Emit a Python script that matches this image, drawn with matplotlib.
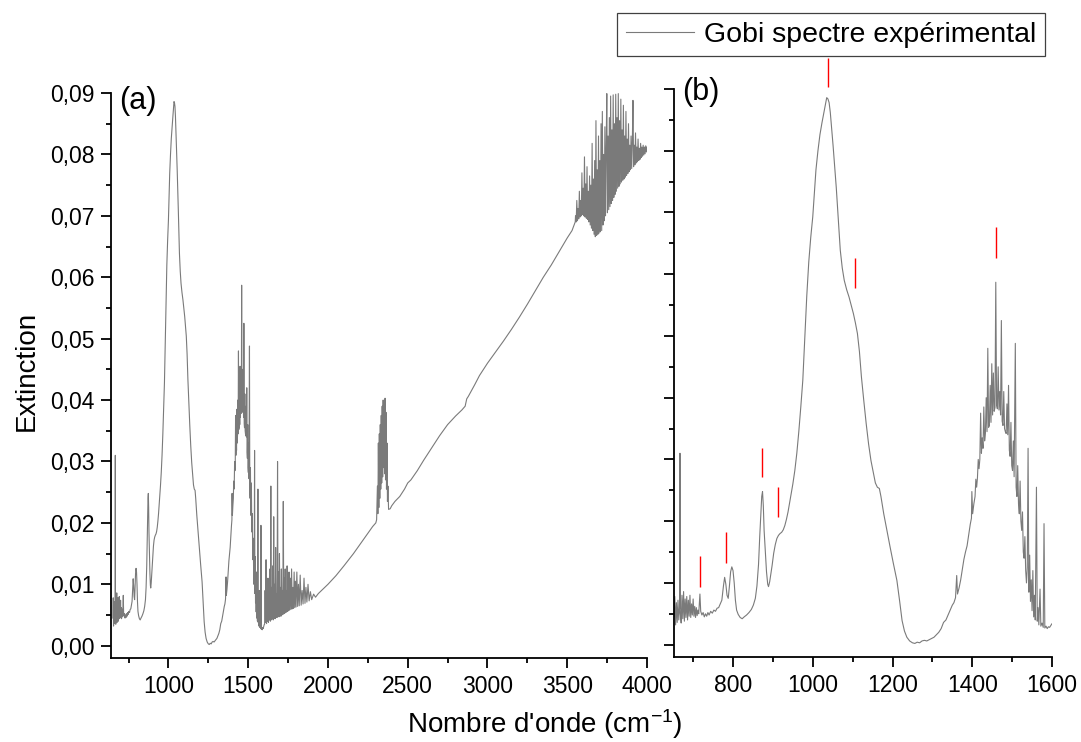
import numpy as np
import matplotlib
matplotlib.use("Agg")
import matplotlib.pyplot as plt
from matplotlib.ticker import MultipleLocator, FuncFormatter

plt.rcParams['font.family'] = ['Liberation Sans', 'DejaVu Sans']
plt.rcParams['mathtext.fontset'] = 'custom'
plt.rcParams['mathtext.rm'] = 'Liberation Sans'
plt.rcParams['mathtext.it'] = 'Liberation Sans:italic'

# spectrum, (wavenumber cm-1, extinction)
band_700 = [
    (652, 0.0045), (654, 0.0078), (656, 0.0032), (658, 0.0068), (660, 0.0036),
    (662, 0.0072), (664, 0.0040), (666, 0.0060), (667, 0.0310), (668, 0.0050),
    (670, 0.0035), (672, 0.0080), (674, 0.0042), (676, 0.0086), (678, 0.0038),
    (680, 0.0074), (682, 0.0044), (684, 0.0078), (686, 0.0040), (688, 0.0072),
    (690, 0.0046), (692, 0.0080), (694, 0.0044), (696, 0.0066), (698, 0.0048),
    (700, 0.0074), (702, 0.0046), (704, 0.0062), (706, 0.0044), (708, 0.0060),
    (710, 0.0047), (712, 0.0056), (714, 0.0050), (716, 0.0070), (717, 0.0082),
    (719, 0.0054), (722, 0.0048), (725, 0.0052), (728, 0.0045), (731, 0.0050),
    (734, 0.0046), (737, 0.0052), (740, 0.0048), (744, 0.0054), (748, 0.0051),
    (752, 0.0056), (756, 0.0054), (760, 0.0059), (764, 0.0060), (768, 0.0066),
    (772, 0.0072), (776, 0.0095), (779, 0.0109), (782, 0.0098), (785, 0.0080),
    (788, 0.0075), (791, 0.0095), (794, 0.0118), (797, 0.0126), (800, 0.0120),
    (803, 0.0100), (806, 0.0072), (809, 0.0056), (813, 0.0049), (818, 0.0044),
    (823, 0.0042), (828, 0.0045), (834, 0.0048), (840, 0.0052), (846, 0.0057),
    (851, 0.0064), (856, 0.0075), (860, 0.0095), (864, 0.0130), (867, 0.0175),
    (870, 0.0215), (872, 0.0240), (874, 0.0248), (876, 0.0225), (878, 0.0185),
    (881, 0.0150), (884, 0.0118), (887, 0.0098), (889, 0.0094), (892, 0.0102),
    (895, 0.0115), (898, 0.0128), (902, 0.0148), (906, 0.0162), (910, 0.0172),
    (914, 0.0177), (918, 0.0180), (922, 0.0182), (926, 0.0186), (930, 0.0193),
    (934, 0.0203), (938, 0.0215), (942, 0.0230), (946, 0.0245), (950, 0.0260),
    (955, 0.0282),
]

band_1000 = [
    (960, 0.0310), (965, 0.0345), (970, 0.0385), (975, 0.0428), (980, 0.0495),
    (985, 0.0565), (990, 0.0620), (995, 0.0660), (1000, 0.0693), (1004, 0.0730),
    (1008, 0.0769), (1013, 0.0800), (1018, 0.0826), (1023, 0.0845), (1028, 0.0862),
    (1032, 0.0876), (1035, 0.0886), (1038, 0.0884), (1041, 0.0878), (1044, 0.0862),
    (1047, 0.0839), (1051, 0.0808), (1055, 0.0774), (1059, 0.0740), (1062, 0.0709),
    (1066, 0.0670), (1069, 0.0639), (1074, 0.0610), (1079, 0.0590), (1085, 0.0575),
    (1091, 0.0563), (1097, 0.0548), (1102, 0.0536), (1107, 0.0521), (1112, 0.0504),
    (1117, 0.0475), (1122, 0.0434), (1128, 0.0395), (1134, 0.0358), (1140, 0.0325),
    (1146, 0.0298), (1152, 0.0278), (1157, 0.0262), (1162, 0.0255), (1167, 0.0253),
    (1171, 0.0240), (1178, 0.0212), (1186, 0.0185), (1194, 0.0158), (1202, 0.0132),
    (1211, 0.0104), (1218, 0.0070), (1224, 0.0039), (1230, 0.0022), (1236, 0.0012),
    (1243, 0.0006), (1250, 0.0003),
]

band_1450 = [
    (1256, 0.0002), (1262, 0.0004), (1268, 0.0003), (1274, 0.0006), (1280, 0.0007),
    (1286, 0.0006), (1292, 0.0008), (1298, 0.0010), (1304, 0.0012), (1310, 0.0016),
    (1316, 0.0020), (1322, 0.0026), (1328, 0.0036), (1334, 0.0040), (1338, 0.0046),
    (1342, 0.0052), (1346, 0.0058), (1350, 0.0064), (1354, 0.0068), (1358, 0.0076),
    (1361, 0.0112), (1363, 0.0082), (1367, 0.0092), (1371, 0.0105), (1375, 0.0122),
    (1379, 0.0138), (1383, 0.0150), (1387, 0.0160), (1391, 0.0178), (1395, 0.0195),
    (1398, 0.0205), (1399, 0.0248), (1401, 0.0212), (1404, 0.0228), (1407, 0.0240),
    (1409, 0.0268), (1411, 0.0255), (1413, 0.0270), (1415, 0.0300), (1417, 0.0285),
    (1419, 0.0300), (1421, 0.0375), (1423, 0.0310), (1425, 0.0335), (1427, 0.0318),
    (1429, 0.0385), (1431, 0.0330), (1433, 0.0342), (1435, 0.0400), (1437, 0.0345),
    (1439, 0.0480), (1441, 0.0352), (1443, 0.0355), (1445, 0.0420), (1447, 0.0360),
    (1449, 0.0455), (1451, 0.0372), (1453, 0.0440), (1455, 0.0378), (1457, 0.0384),
    (1459, 0.0587), (1461, 0.0388), (1463, 0.0382), (1465, 0.0450), (1467, 0.0380),
    (1469, 0.0410), (1471, 0.0372), (1473, 0.0525), (1475, 0.0362), (1477, 0.0355),
    (1479, 0.0410), (1481, 0.0350), (1483, 0.0345), (1485, 0.0342), (1487, 0.0390),
    (1489, 0.0340), (1491, 0.0420), (1493, 0.0315), (1495, 0.0305), (1497, 0.0360),
    (1499, 0.0290), (1501, 0.0282), (1503, 0.0330), (1505, 0.0272), (1508, 0.0488),
    (1510, 0.0255), (1512, 0.0240), (1514, 0.0290), (1516, 0.0228), (1518, 0.0212),
    (1520, 0.0265), (1522, 0.0200), (1524, 0.0185), (1526, 0.0215), (1528, 0.0150),
    (1530, 0.0140), (1532, 0.0175), (1534, 0.0120), (1536, 0.0100), (1538, 0.0125),
    (1540, 0.0318), (1542, 0.0085), (1544, 0.0145), (1546, 0.0070), (1548, 0.0105),
    (1550, 0.0055), (1552, 0.0120), (1554, 0.0045), (1556, 0.0080), (1558, 0.0040),
    (1561, 0.0255), (1563, 0.0038), (1565, 0.0060), (1567, 0.0032), (1570, 0.0090),
    (1572, 0.0030), (1575, 0.0035), (1578, 0.0028), (1580, 0.0196), (1582, 0.0027),
    (1585, 0.0030), (1588, 0.0026), (1591, 0.0029), (1594, 0.0028), (1597, 0.0031),
    (1600, 0.0034),
]

band_1700 = [
    (1603, 0.0035), (1606, 0.0090), (1609, 0.0038), (1612, 0.0140), (1615, 0.0036),
    (1618, 0.0075), (1621, 0.0040), (1624, 0.0110), (1627, 0.0038), (1630, 0.0085),
    (1633, 0.0042), (1636, 0.0125), (1639, 0.0040), (1642, 0.0260), (1645, 0.0042),
    (1648, 0.0095), (1651, 0.0044), (1654, 0.0130), (1657, 0.0042), (1660, 0.0210),
    (1663, 0.0045), (1666, 0.0100), (1669, 0.0044), (1672, 0.0160), (1675, 0.0046),
    (1678, 0.0085), (1681, 0.0046), (1684, 0.0300), (1687, 0.0048), (1690, 0.0120),
    (1693, 0.0047), (1696, 0.0150), (1699, 0.0049), (1702, 0.0095), (1705, 0.0048),
    (1708, 0.0125), (1711, 0.0050), (1714, 0.0090), (1717, 0.0051), (1720, 0.0235),
    (1723, 0.0052), (1726, 0.0110), (1729, 0.0053), (1732, 0.0125), (1735, 0.0054),
    (1738, 0.0090), (1741, 0.0055), (1744, 0.0130), (1747, 0.0056), (1750, 0.0100),
    (1753, 0.0057), (1756, 0.0120), (1760, 0.0058), (1764, 0.0110), (1768, 0.0059),
    (1772, 0.0125), (1776, 0.0060), (1780, 0.0095), (1784, 0.0061), (1788, 0.0120),
    (1792, 0.0062), (1796, 0.0105), (1800, 0.0063), (1805, 0.0120), (1810, 0.0064),
    (1815, 0.0100), (1820, 0.0065), (1826, 0.0115), (1832, 0.0066), (1838, 0.0090),
    (1844, 0.0068), (1850, 0.0110), (1856, 0.0069), (1862, 0.0095), (1868, 0.0071),
    (1875, 0.0100), (1882, 0.0073), (1890, 0.0088), (1898, 0.0075), (1910, 0.0084),
    (1922, 0.0079), (1940, 0.0085), (1960, 0.0090), (1980, 0.0095), (2000, 0.0100),
    (2025, 0.0107), (2050, 0.0114), (2075, 0.0122), (2100, 0.0130), (2130, 0.0140),
    (2160, 0.0150), (2190, 0.0161), (2220, 0.0172), (2250, 0.0183), (2280, 0.0194),
    (2300, 0.0200),
]

band_co2 = [
    (2305, 0.0205), (2310, 0.0260), (2313, 0.0215), (2316, 0.0330), (2319, 0.0225),
    (2322, 0.0345), (2325, 0.0240), (2328, 0.0360), (2331, 0.0255), (2334, 0.0375),
    (2337, 0.0265), (2340, 0.0390), (2343, 0.0275), (2346, 0.0400), (2349, 0.0290),
    (2352, 0.0395), (2355, 0.0280), (2358, 0.0403), (2361, 0.0270), (2364, 0.0380),
    (2367, 0.0255), (2370, 0.0330), (2373, 0.0235), (2376, 0.0260), (2380, 0.0222),
    (2390, 0.0223), (2400, 0.0228),
]

band_slope = [
    (2420, 0.0235), (2450, 0.0243), (2480, 0.0255), (2500, 0.0265), (2520, 0.0270),
    (2560, 0.0285), (2600, 0.0302), (2650, 0.0322), (2700, 0.0342), (2750, 0.0360),
    (2800, 0.0374), (2840, 0.0384), (2860, 0.0390), (2870, 0.0402), (2880, 0.0406),
    (2920, 0.0425), (2950, 0.0440), (3000, 0.0460), (3050, 0.0478), (3100, 0.0496),
    (3150, 0.0515), (3200, 0.0535), (3250, 0.0556), (3300, 0.0578), (3350, 0.0600),
    (3400, 0.0620), (3450, 0.0642), (3500, 0.0664), (3530, 0.0676), (3550, 0.0690),
]

band_3700 = [
    (3552, 0.0700), (3556, 0.0690), (3560, 0.0725), (3564, 0.0692), (3568, 0.0712),
    (3572, 0.0695), (3576, 0.0740), (3580, 0.0698), (3584, 0.0725), (3588, 0.0700),
    (3592, 0.0770), (3596, 0.0702), (3600, 0.0745), (3604, 0.0700), (3608, 0.0796),
    (3612, 0.0698), (3616, 0.0752), (3620, 0.0696), (3624, 0.0780), (3628, 0.0694),
    (3632, 0.0740), (3636, 0.0690), (3640, 0.0765), (3644, 0.0685), (3648, 0.0750),
    (3652, 0.0680), (3656, 0.0818), (3660, 0.0676), (3664, 0.0760), (3668, 0.0670),
    (3672, 0.0790), (3676, 0.0666), (3680, 0.0855), (3684, 0.0668), (3688, 0.0775),
    (3692, 0.0670), (3696, 0.0830), (3700, 0.0672), (3704, 0.0790), (3708, 0.0674),
    (3712, 0.0850), (3716, 0.0676), (3720, 0.0870), (3724, 0.0685), (3728, 0.0800),
    (3732, 0.0692), (3736, 0.0845), (3740, 0.0700), (3744, 0.0810), (3748, 0.0899),
    (3752, 0.0705), (3756, 0.0830), (3760, 0.0710), (3764, 0.0860), (3768, 0.0715),
    (3772, 0.0895), (3776, 0.0720), (3780, 0.0840), (3784, 0.0725), (3788, 0.0897),
    (3792, 0.0730), (3796, 0.0850), (3800, 0.0735), (3804, 0.0898), (3808, 0.0740),
    (3812, 0.0860), (3816, 0.0745), (3820, 0.0899), (3824, 0.0748), (3828, 0.0855),
    (3832, 0.0752), (3836, 0.0890), (3840, 0.0755), (3844, 0.0840), (3848, 0.0758),
    (3852, 0.0880), (3856, 0.0760), (3860, 0.0830), (3864, 0.0763), (3868, 0.0870),
    (3872, 0.0766), (3876, 0.0825), (3880, 0.0769), (3884, 0.0850), (3888, 0.0772),
    (3892, 0.0815), (3896, 0.0775), (3900, 0.0830), (3904, 0.0777), (3908, 0.0820),
    (3912, 0.0888), (3916, 0.0780), (3920, 0.0815), (3924, 0.0783), (3928, 0.0835),
    (3932, 0.0786), (3936, 0.0812), (3940, 0.0788), (3944, 0.0825), (3948, 0.0790),
    (3952, 0.0810), (3956, 0.0792), (3960, 0.0818), (3964, 0.0795), (3968, 0.0812),
    (3972, 0.0797), (3976, 0.0815), (3980, 0.0799), (3984, 0.0812), (3988, 0.0801),
    (3992, 0.0814), (3996, 0.0804), (4000, 0.0812),
]

# red band markers in panel (b): position, bottom, top
mark_pos = [717, 783, 873, 914, 1038, 1105, 1459]
mark_low = [0.0094, 0.0133, 0.0271, 0.0206, 0.0904, 0.0577, 0.0627]
mark_high = [0.0143, 0.0183, 0.0319, 0.0256, 0.0951, 0.0626, 0.0676]

legend_label = "Gobi spectre expérimental"

spec = np.array(band_700 + band_1000 + band_1450 + band_1700
                + band_co2 + band_slope + band_3700)
wn, ext = spec[:, 0], spec[:, 1]

W, H = 1081, 742
fig = plt.figure(figsize=(W / 100, H / 100), dpi=100)
ax1 = fig.add_axes([111 / W, 1 - 658 / H, 536 / W, 565 / H])
ax2 = fig.add_axes([674 / W, 1 - 657 / H, 378 / W, 568 / H])

comma = FuncFormatter(lambda v, p: f"{v:.2f}".replace('.', ','))
gray = '#7a7a7a'

for ax in (ax1, ax2):
    line, = ax.plot(wn, ext, color=gray, lw=0.8)
    ax.set_ylim(-0.002, 0.09)
    ax.spines['top'].set_visible(False)
    ax.spines['right'].set_visible(False)
    for s in ('left', 'bottom'):
        ax.spines[s].set_linewidth(1.3)
    ax.yaxis.set_major_locator(MultipleLocator(0.01))
    ax.yaxis.set_minor_locator(MultipleLocator(0.005))
    ax.tick_params(which='major', direction='out', length=7, width=1.3,
                   labelsize=16.5, pad=5)
    ax.tick_params(which='minor', direction='out', length=3.5, width=1.3)

ax1.set_xlim(640, 4000)
ax1.xaxis.set_major_locator(MultipleLocator(500))
ax1.xaxis.set_minor_locator(MultipleLocator(250))
ax1.yaxis.set_major_formatter(comma)

ax2.set_xlim(652, 1600)
ax2.xaxis.set_major_locator(MultipleLocator(200))
ax2.xaxis.set_minor_locator(MultipleLocator(100))
ax2.tick_params(axis='y', labelleft=False)

ax2.vlines(mark_pos, mark_low, mark_high, colors='red', lw=1.0, clip_on=False)

ax1.text(0.015, 1.012, "(a)", transform=ax1.transAxes, fontsize=22,
         ha='left', va='top')
ax2.text(0.022, 1.022, "(b)", transform=ax2.transAxes, fontsize=22,
         ha='left', va='top')

fig.text(0.025, 0.50, "Extinction", rotation=90, fontsize=20,
         ha='center', va='center')
fig.text(0.504, 0.024, "Nombre d'onde (cm$^{-1}$)", fontsize=20,
         ha='center', va='center')

leg = fig.legend([line], [legend_label], loc='upper right',
                 bbox_to_anchor=(1045 / W, 1 - 13 / H), fontsize=20.5,
                 frameon=True, fancybox=False, edgecolor='#404040',
                 framealpha=1, handlelength=2.4, handletextpad=0.35,
                 borderpad=0.3, borderaxespad=0)
leg.get_frame().set_linewidth(0.9)

fig.savefig("out.png", dpi=100)
